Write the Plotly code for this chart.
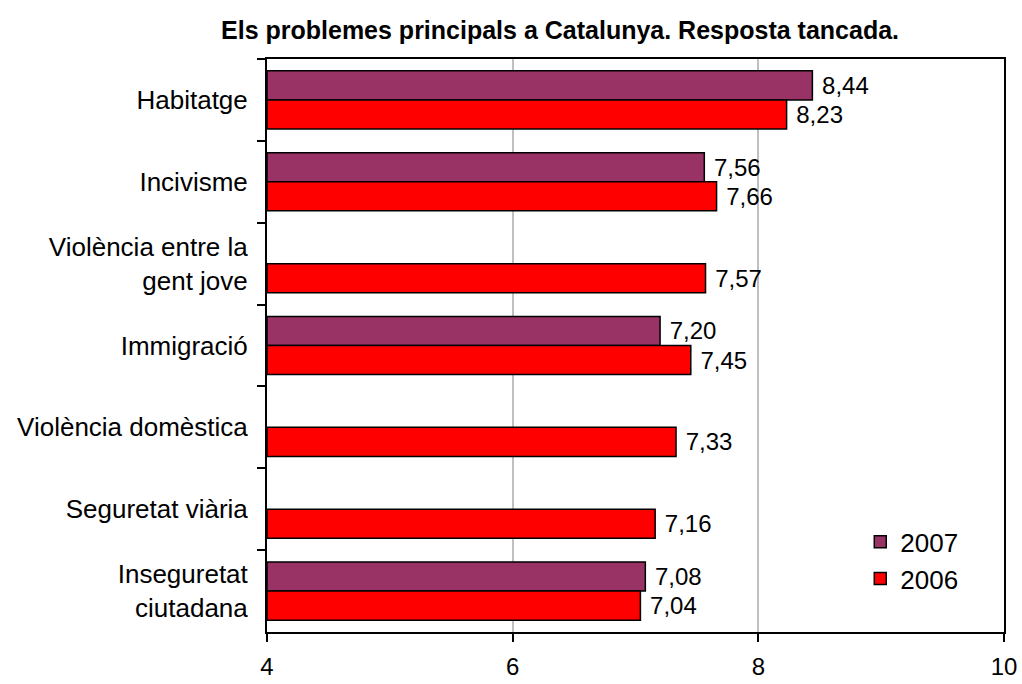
import plotly.graph_objects as go

categories = ["Habitatge", "Incivisme", "Violència entre la<br>gent jove", "Immigració",
              "Violència domèstica", "Seguretat viària", "Inseguretat<br>ciutadana"]
values_2007 = [8.44, 7.56, None, 7.20, None, None, 7.08]
values_2006 = [8.23, 7.66, 7.57, 7.45, 7.33, 7.16, 7.04]
x_ticks = [4, 6, 8, 10]
axis_min = 4

def fmt(v):
    return "" if v is None else " " + f"{v:.2f}".replace(".", ",")

FONT = "Arial, Liberation Sans, sans-serif"
LBL = 24
W, H = 1022, 684

fig = go.Figure()
for name, vals, color in [("2007", values_2007, "#993366"), ("2006", values_2006, "#FF0000")]:
    fig.add_trace(go.Bar(
        y=categories, x=[None if v is None else v - axis_min for v in vals],
        base=axis_min, orientation="h", name=name, legendgroup=name,
        marker=dict(color=color, line=dict(color="black", width=1.5)),
        text=[fmt(v) for v in vals], textposition="outside",
        textfont=dict(size=LBL, color="black", family=FONT), cliponaxis=False,
    ))

fig.update_layout(
    width=W, height=H,
    margin=dict(l=267, r=18, t=59, b=52, autoexpand=False),
    paper_bgcolor="white", plot_bgcolor="white",
    barmode="group", bargap=0.29, bargroupgap=0,
    font=dict(family=FONT, size=LBL, color="black"),
    title=dict(text="<b>Els problemes principals a Catalunya. Resposta tancada.</b>",
               x=0.3976, xref="paper", xanchor="center", y=1 - 30 / H, yref="container",
               yanchor="middle", font=dict(size=25, family=FONT, color="black")),
    legend=dict(x=0.805, y=0.125, xanchor="left", yanchor="middle",
                bgcolor="rgba(0,0,0,0)", font=dict(size=26, family=FONT),
                traceorder="normal", itemwidth=30, tracegroupgap=4),
    showlegend=True,
)
fig.update_xaxes(
    range=[4, 10], tickvals=x_ticks, ticktext=[str(t) for t in x_ticks],
    showgrid=True, gridcolor="#C0C0C0", gridwidth=1.5,
    showline=True, linecolor="black", linewidth=2, mirror=True,
    ticks="outside", ticklen=8, tickwidth=2, tickcolor="black",
    tickfont=dict(size=LBL), zeroline=False, ticklabelstandoff=4, automargin=False,
)
fig.update_yaxes(
    autorange="reversed", showline=True, linecolor="black", linewidth=2, mirror=True,
    ticks="outside", tickson="boundaries", ticklen=8, tickwidth=2, tickcolor="black",
    tickfont=dict(size=26), showgrid=False, ticklabelstandoff=12, automargin=False,
)
fig.write_html("out.html", config={"displayModeBar": False},
               post_script="document.body.style.margin='0px';")
